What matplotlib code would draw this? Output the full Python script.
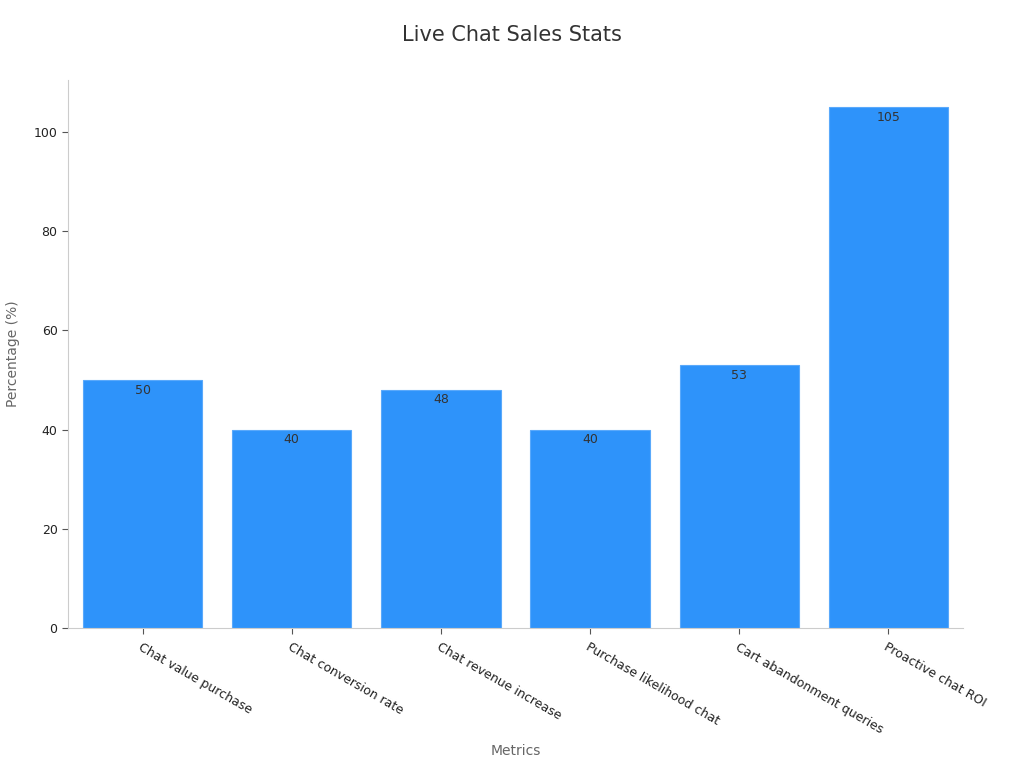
import matplotlib
matplotlib.use("Agg")
import matplotlib.pyplot as plt

categories = ["Chat value purchase", "Chat conversion rate", "Chat revenue increase",
              "Purchase likelihood chat", "Cart abandonment queries", "Proactive chat ROI"]
values = [50, 40, 48, 40, 53, 105]
yticks = [0, 20, 40, 60, 80, 100]

plt.rcParams['font.family'] = ['DejaVu Sans']
fig = plt.figure(figsize=(10.24, 7.68), dpi=100)
ax = fig.add_axes([0.0664, 0.1823, 0.874, 0.7135])

x = list(range(len(categories)))
bars = ax.bar(x, values, width=0.8, color="#2E93FA", edgecolor="#5aa9fb", linewidth=0.8)
for xi, v in zip(x, values):
    ax.annotate(str(v), (xi, v), xytext=(0, -2.5), textcoords="offset points",
                ha="center", va="top", fontsize=9, color="#333333")

ax.set_xlim(-0.5, 5.5)
ax.set_ylim(0, 110.5)
ax.set_yticks(yticks)
ax.set_xticks(x)
ax.set_xticklabels(categories, rotation=-30, ha="left", rotation_mode="anchor", fontsize=9, color="#222222")
for lbl in ax.get_xticklabels():
    lbl.set_x(lbl.get_position()[0])
ax.tick_params(axis="y", labelsize=9, colors="#222222", length=4, color="#555555")
ax.tick_params(axis="x", length=4, color="#555555", pad=5)
for s in ["top", "right"]:
    ax.spines[s].set_visible(False)
for s in ["left", "bottom"]:
    ax.spines[s].set_color("#cccccc")
ax.set_xlabel("Metrics", fontsize=10, color="#666666", labelpad=6)
ax.set_ylabel("Percentage (%)", fontsize=10, color="#666666", labelpad=10)
fig.suptitle("Live Chat Sales Stats", fontsize=15, color="#333333", y=0.968)
fig.savefig("out.png", dpi=100)
